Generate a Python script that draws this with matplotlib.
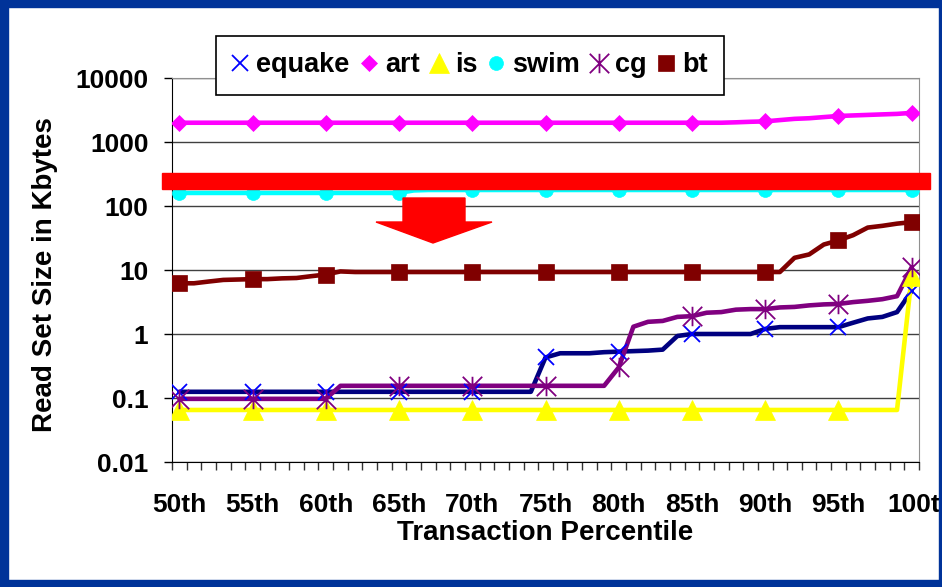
import numpy as np
import matplotlib
matplotlib.use('Agg')
import matplotlib.pyplot as plt
import matplotlib.transforms as mtransforms
from matplotlib.patches import Rectangle, Polygon
from matplotlib.path import Path
from matplotlib.lines import Line2D

plt.rcParams['font.family'] = ['Liberation Sans', 'DejaVu Sans']
plt.rcParams['font.weight'] = 'bold'

# categories: transaction percentiles 50th .. 100th
percentiles = list(range(50, 101))
tick_labels = ['50th', '55th', '60th', '65th', '70th', '75th',
               '80th', '85th', '90th', '95th', '100th']
y_ticks = [0.01, 0.1, 1, 10, 100, 1000, 10000]
y_tick_labels = ['0.01', '0.1', '1', '10', '100', '1000', '10000']

# read set size in Kbytes, one value per percentile
equake = [0.125, 0.125, 0.125, 0.125, 0.125, 0.125, 0.125, 0.125, 0.125, 0.125,
          0.125, 0.125, 0.125, 0.125, 0.125, 0.125, 0.125, 0.125, 0.125, 0.125,
          0.125, 0.125, 0.125, 0.125, 0.125, 0.43, 0.5, 0.5, 0.5, 0.52,
          0.53, 0.54, 0.55, 0.57, 0.93, 1.0, 1.0, 1.0, 1.0, 1.0,
          1.2, 1.28, 1.28, 1.28, 1.28, 1.28, 1.5, 1.75, 1.85, 2.2,
          4.7]
art = [2000, 2000, 2000, 2000, 2000, 2000, 2000, 2000, 2000, 2000,
       2000, 2000, 2000, 2000, 2000, 2000, 2000, 2000, 2000, 2000,
       2000, 2000, 2000, 2000, 2000, 2000, 2000, 2000, 2000, 2000,
       2000, 2000, 2000, 2000, 2000, 2000, 2000, 2000, 2030, 2070,
       2100, 2200, 2300, 2350, 2450, 2550, 2600, 2650, 2700, 2750,
       2850]
is_ = [0.065, 0.065, 0.065, 0.065, 0.065, 0.065, 0.065, 0.065, 0.065, 0.065,
       0.065, 0.065, 0.065, 0.065, 0.065, 0.065, 0.065, 0.065, 0.065, 0.065,
       0.065, 0.065, 0.065, 0.065, 0.065, 0.065, 0.065, 0.065, 0.065, 0.065,
       0.065, 0.065, 0.065, 0.065, 0.065, 0.065, 0.065, 0.065, 0.065, 0.065,
       0.065, 0.065, 0.065, 0.065, 0.065, 0.065, 0.065, 0.065, 0.065, 0.065,
       8.0]
swim = [160, 160, 160, 160, 160, 160, 160, 160, 160, 160,
        160, 160, 160, 160, 160, 160, 175, 178, 178, 178,
        178, 178, 178, 178, 178, 178, 178, 178, 178, 178,
        178, 178, 178, 178, 178, 178, 178, 178, 178, 178,
        178, 178, 178, 178, 178, 178, 178, 178, 178, 178,
        178]
cg = [0.097, 0.097, 0.097, 0.097, 0.097, 0.097, 0.097, 0.097, 0.097, 0.097,
      0.097, 0.155, 0.155, 0.155, 0.155, 0.155, 0.155, 0.155, 0.155, 0.155,
      0.155, 0.155, 0.155, 0.155, 0.155, 0.155, 0.155, 0.155, 0.155, 0.155,
      0.30, 1.3, 1.55, 1.6, 1.85, 1.9, 2.15, 2.2, 2.4, 2.45,
      2.45, 2.6, 2.65, 2.8, 2.9, 2.95, 3.15, 3.3, 3.5, 3.9,
      11.0]
bt = [6.2, 6.2, 6.6, 7.0, 7.1, 7.2, 7.2, 7.4, 7.5, 8.0,
      8.5, 9.5, 9.3, 9.3, 9.3, 9.3, 9.3, 9.3, 9.3, 9.3,
      9.3, 9.3, 9.3, 9.3, 9.3, 9.3, 9.3, 9.3, 9.3, 9.3,
      9.3, 9.3, 9.3, 9.3, 9.3, 9.3, 9.3, 9.3, 9.3, 9.3,
      9.3, 9.3, 15.5, 17.5, 25, 29, 35, 46, 49, 53,
      56]

W, H = 942, 587


def fx(px):
    return px / W


def fy(py):
    return 1 - py / H


# Excel style asterisk marker (x with a vertical bar)
star = Path([(-1, -1), (1, 1), (-1, 1), (1, -1), (0, -1), (0, 1)],
            [Path.MOVETO, Path.LINETO, Path.MOVETO, Path.LINETO, Path.MOVETO, Path.LINETO])

# name, values, line colour, marker colour, marker, size, filled
series = [
    ('equake', equake, '#000080', '#0000FF', 'x', 11.5, False),
    ('art', art, '#FF00FF', '#FF00FF', 'D', 8, True),
    ('is', is_, '#FFFF00', '#FFFF00', '^', 14.5, True),
    ('swim', swim, '#00FFFF', '#00FFFF', 'o', 10, True),
    ('cg', cg, '#800080', '#800080', star, 14, False),
    ('bt', bt, '#800000', '#800000', 's', 11, True),
]

fig = plt.figure(figsize=(W / 100, H / 100), dpi=100)
fig.patch.set_facecolor('white')
ax = fig.add_axes([fx(172), fy(462), 747 / W, 384 / H])

x = np.arange(len(percentiles))
for name, vals, lc, mc, mk, ms, filled in series:
    ax.plot(x, vals, color=lc, lw=3.3, zorder=2, solid_capstyle='round')

handles = []
for name, vals, lc, mc, mk, ms, filled in series:
    style = dict(linestyle='none', marker=mk, markersize=ms, markeredgecolor=mc,
                 markerfacecolor=mc if filled else 'none',
                 markeredgewidth=0.5 if filled else 1.3)
    ax.plot(x[::5], np.array(vals)[::5], zorder=3, **style)
    handles.append(Line2D([], [], label=name, **style))

ax.set_yscale('log')
ax.set_ylim(0.01, 10000)
ax.set_xlim(-0.5, 50.5)
ax.set_yticks(y_ticks)
ax.set_yticklabels(y_tick_labels)
ax.yaxis.set_minor_locator(matplotlib.ticker.NullLocator())
ax.set_xticks(x[::5])
ax.set_xticklabels(tick_labels)
ax.set_xticks(np.arange(-0.5, 51, 1), minor=True)
ax.tick_params(axis='x', which='major', length=0, pad=22, labelsize=19)
ax.tick_params(axis='x', which='minor', length=6, width=1, direction='out', color='#333333')
ax.tick_params(axis='y', which='major', length=6, width=1, direction='out', pad=11, labelsize=19)

ax.grid(axis='y', which='major', color='#404040', lw=1)
ax.set_axisbelow(True)
for s in ['top', 'right']:
    ax.spines[s].set_color('#909090')
for s in ['left', 'bottom']:
    ax.spines[s].set_color('black')

ax.set_xlabel('Transaction Percentile', fontsize=20, fontweight='bold')
ax.xaxis.set_label_coords(0.5, -0.15)
ax.set_ylabel('Read Set Size in Kbytes', fontsize=20, fontweight='bold')
ax.yaxis.set_label_coords(-0.152, 0.488)

# last label is pushed right and cut by the slide border, as in the slide
last = ax.get_xticklabels()[-1]
last.set_transform(last.get_transform() + mtransforms.ScaledTranslation(0.1, 0, fig.dpi_scale_trans))

leg = ax.legend(handles=handles, ncol=6, loc='center',
                bbox_to_anchor=(fx(470), fy(65.5)), bbox_transform=fig.transFigure,
                fontsize=19.5, frameon=True, fancybox=False, framealpha=1,
                edgecolor='black', handlelength=0.6, handletextpad=0.3,
                columnspacing=0.4, borderpad=0.6)
leg.get_frame().set_linewidth(1.2)

# red highlight bar and arrow
fig.patches.append(Rectangle((fx(162), fy(188.5)), (930 - 162) / W, 16 / H,
                             transform=fig.transFigure, color='#FF0000', zorder=5))
arrow = [(403, 198), (465, 198), (465, 222), (492, 222), (433, 243),
         (376, 222), (403, 222)]
fig.patches.append(Polygon([(fx(a), fy(b)) for a, b in arrow], closed=True,
                           transform=fig.transFigure, color='#FF0000', zorder=5))

# blue slide border
blue = '#003399'
for rx, ry, rw, rh in [(0, 0, 8, H), (939, 0, 3, H), (0, 0, W, 7), (0, 580, W, 7)]:
    fig.patches.append(Rectangle((fx(rx), fy(ry + rh)), rw / W, rh / H,
                                 transform=fig.transFigure, color=blue, zorder=10))

fig.savefig('out.png', dpi=100)
